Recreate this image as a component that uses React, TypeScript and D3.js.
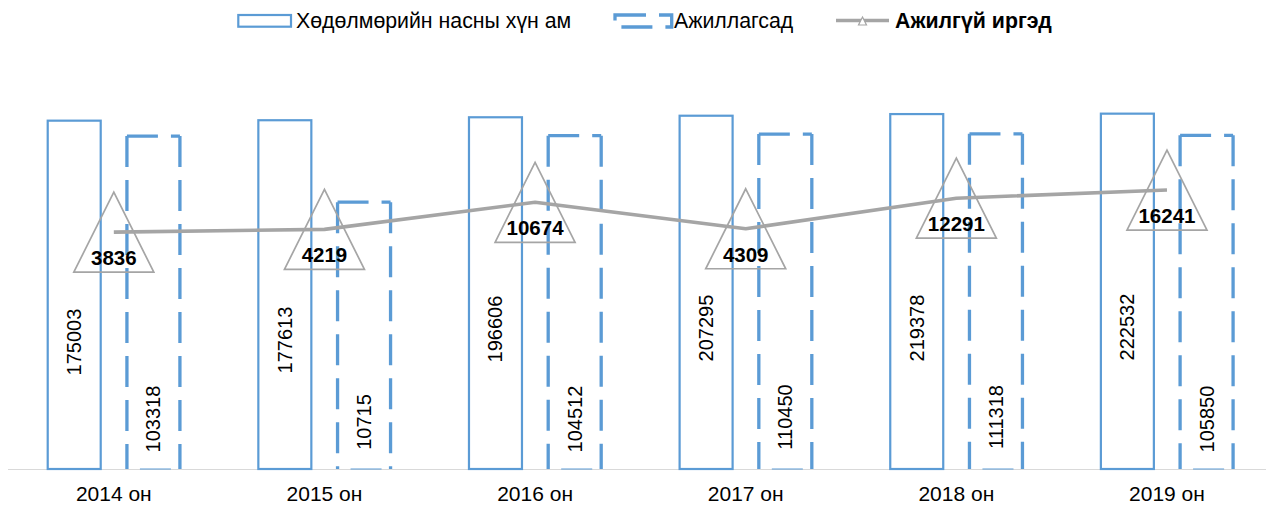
import { useEffect } from 'react';
import * as d3 from 'd3';

const years = ['2014 он', '2015 он', '2016 он', '2017 он', '2018 он', '2019 он'];
const workingAge = [175003, 177613, 196606, 207295, 219378, 222532];
const employed = [103318, 10715, 104512, 110450, 111318, 105850];
const unemployed = [3836, 4219, 10674, 4309, 12291, 16241];
const seriesNames = ['Хөдөлмөрийн насны хүн ам', 'Ажиллагсад', 'Ажилгүй иргэд'];

// label centres above the axis (hand-placed in the original)
const workingAgeLabelRise = [127, 129, 140, 141, 141, 142];
const employedLabelRise = [50, 47, 50, 52, 52, 50];

const width = 1266;
const height = 506;
const baseY = 469;
const blue = '#5b9bd5';
const gray = '#a5a5a5';
const font = '"Liberation Sans", Arial, sans-serif';
const dash = '31 13';

export default function App() {
  useEffect(() => {
    document.body.style.margin = '0';
  }, []);

  // category and in-group scales
  const x0 = d3.scaleBand<string>().domain(years).range([8.5, 1272.3]).paddingInner(0).paddingOuter(0);
  const x1 = d3
    .scaleBand<string>()
    .domain(['workingAge', 'employed'])
    .range([0, x0.bandwidth()])
    .paddingInner(0.331)
    .paddingOuter(0.495);
  const bw = x1.bandwidth();

  // both axes are log scale, same range
  const y = d3.scaleLog().domain([1, 1e6]).range([473, 69.8]);

  const cx = (i: number) => (x0(years[i]) as number) + x0.bandwidth() / 2;

  const line = d3
    .line<number>()
    .x((_, i) => cx(i))
    .y((d) => y(d));

  const tri = (x: number, yy: number, r: number) =>
    `M${x},${yy - r}L${x + r},${yy + r}L${x - r},${yy + r}Z`;

  return (
    <svg width={width} height={height} style={{ display: 'block', fontFamily: font }}>
      <rect width={width} height={height} fill="#fff" />

      {/* category axis */}
      <line x1={8} x2={width} y1={baseY + 0.5} y2={baseY + 0.5} stroke="#d9d9d9" strokeWidth={1} />

      {/* working-age population bars */}
      {workingAge.map((v, i) => {
        const bx = (x0(years[i]) as number) + (x1('workingAge') as number);
        return (
          <rect
            key={'wa' + i}
            x={bx}
            y={y(v)}
            width={bw}
            height={baseY - y(v)}
            fill="none"
            stroke={blue}
            strokeWidth={2.2}
          />
        );
      })}

      {/* employed bars, dashed outline */}
      {employed.map((v, i) => {
        const bx = (x0(years[i]) as number) + (x1('employed') as number);
        const top = y(v);
        return (
          <g key={'em' + i} fill="none" stroke={blue} strokeWidth={3.3} strokeDasharray={dash}>
            <line x1={bx} x2={bx + bw} y1={top} y2={top} />
            <line x1={bx} x2={bx} y1={top} y2={baseY} />
            <line x1={bx + bw} x2={bx + bw} y1={top} y2={baseY} />
            <line x1={bx} x2={bx + bw} y1={baseY} y2={baseY} strokeDashoffset={31} strokeOpacity={0.5} strokeWidth={2} />
          </g>
        );
      })}

      {/* bar labels */}
      {workingAge.map((v, i) => {
        const bx = (x0(years[i]) as number) + (x1('workingAge') as number) + bw / 2;
        return (
          <text
            key={'wal' + i}
            transform={`translate(${bx + 7},${baseY - workingAgeLabelRise[i]}) rotate(-90)`}
            textAnchor="middle"
            fontSize={20}
            fill="#000"
          >
            {v}
          </text>
        );
      })}
      {employed.map((v, i) => {
        const bx = (x0(years[i]) as number) + (x1('employed') as number) + bw / 2;
        return (
          <text
            key={'eml' + i}
            transform={`translate(${bx + 7},${baseY - employedLabelRise[i]}) rotate(-90)`}
            textAnchor="middle"
            fontSize={20}
            fill="#000"
          >
            {v}
          </text>
        );
      })}

      {/* unemployed line */}
      <path d={line(unemployed) || ''} fill="none" stroke={gray} strokeWidth={3.6} strokeLinejoin="round" />
      {unemployed.map((v, i) => (
        <g key={'un' + i}>
          <path d={tri(cx(i), y(v), 40)} fill="none" stroke={gray} strokeWidth={1.7} />
          <text x={cx(i)} y={y(v) + 33} textAnchor="middle" fontSize={20.5} fontWeight="bold" fill="#000">
            {v}
          </text>
        </g>
      ))}

      {/* x labels */}
      {years.map((yr, i) => (
        <text key={yr} x={cx(i)} y={501} textAnchor="middle" fontSize={21} fill="#000">
          {yr}
        </text>
      ))}

      {/* legend */}
      <g>
        <rect x={238.3} y={15} width={52.7} height={11.7} fill="none" stroke={blue} strokeWidth={2.2} />
        <text x={296} y={28} fontSize={21.3} fill="#000">
          {seriesNames[0]}
        </text>
        <rect
          x={615}
          y={15}
          width={56.7}
          height={12}
          fill="none"
          stroke={blue}
          strokeWidth={3.3}
          strokeDasharray={dash}
        />
        <text x={674} y={28} fontSize={21.3} fill="#000">
          {seriesNames[1]}
        </text>
        <line x1={836} x2={889} y1={20.5} y2={20.5} stroke={gray} strokeWidth={3.5} />
        <path d={tri(862.5, 21, 4)} fill="#fff" stroke={gray} strokeWidth={1.2} />
        <text x={895} y={28} fontSize={21.3} fontWeight="bold" fill="#000">
          {seriesNames[2]}
        </text>
      </g>
    </svg>
  );
}
